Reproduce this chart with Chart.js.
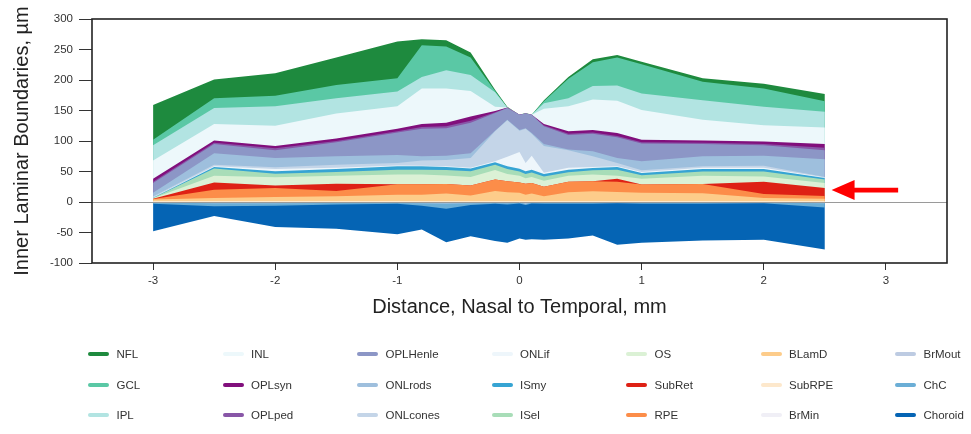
<!DOCTYPE html>
<html>
<head>
<meta charset="utf-8">
<script src="https://cdn.jsdelivr.net/npm/chart.js@4"></script>
<style>
  html, body { margin: 0; padding: 0; background: #fff; }
  #wrap { position: relative; width: 971px; height: 434px; overflow: hidden;
          font-family: "Liberation Sans", Arial, sans-serif; }
  #chart { position: absolute; left: 0; top: 0; }
  .item { position: absolute; height: 14px; width: 130px; }
  .swatch { position: absolute; left: 0; top: 5px; width: 21px; height: 4px; border-radius: 2px; }
  .lbl { position: absolute; left: 28.5px; top: 0; line-height: 14px; font-size: 11.5px; color: #333; white-space: nowrap; }
</style>
</head>
<body>
<div id="wrap">
  <canvas id="chart" width="971" height="434"></canvas>
  <div id="legend"></div>
</div>
<script>
// Sampling positions across the macula (mm, nasal negative)
const distances = [-3, -2.5, -2, -1.5, -1, -0.8, -0.6, -0.4, -0.2, -0.1, 0, 0.05, 0.1, 0.2, 0.4, 0.6, 0.8, 1, 1.5, 2, 2.5];

// Upper boundary of each layer above Bruch's membrane (µm)
const NFL      = [159, 201, 211, 237, 263, 267, 265, 245, 184, 156, 143, 146, 143, 167, 205, 234, 241, 230, 203, 194, 177];
const GCL      = [102, 170, 174, 192, 203, 257, 255, 237, 182, 155, 143, 145, 143, 165, 202, 229, 237, 226, 197, 186, 165];
const IPL      = [93, 154, 157, 170, 181, 205, 216, 208, 180, 155, 143, 145, 143, 162, 170, 190, 191, 178, 167, 156, 148];
const INL      = [68, 128, 125, 145, 157, 186, 186, 182, 156, 155, 143, 145, 143, 153, 157, 168, 166, 151, 135, 126, 122];
const OPLsyn   = [38, 101, 92, 104, 120, 128, 130, 140, 149, 155, 143, 145, 143, 128, 116, 118, 113, 102, 101, 99, 95];
const OPLped   = [33, 97, 88, 100, 116, 123, 124, 133, 147, 154.5, 143, 145, 143, 126, 112, 114, 108, 98, 97, 95, 89];
const OPLHenle = [31, 95, 85, 98, 114, 120, 121, 130, 146, 154, 143, 145, 143, 124, 110, 112, 106, 96, 95, 93, 85];
const ONLrods  = [15, 80, 72, 75, 77, 75, 76, 80, 117, 135, 118, 121, 113, 95, 86, 83, 72, 67, 75, 76, 70];
const ONLcones = [9, 61, 57, 61, 64, 68, 69, 72, 116, 134, 117, 120, 112, 92, 85, 75, 64, 52, 58.5, 59.5, 41];
const ONLif    = [7.5, 58.5, 54, 56, 60, 59.5, 58.5, 56, 67, 74, 82, 64, 76, 48, 56, 57.5, 58.5, 49, 56, 56, 40];
const ISmy     = [7, 57.5, 50.5, 54, 58.5, 58.5, 57.4, 55, 65, 58.5, 54.5, 50.5, 53, 46, 53, 55.7, 57.4, 47.6, 54, 54, 39.3];
const ISel     = [6.5, 55, 46.5, 49, 53, 53, 52.5, 50.5, 61, 54, 50, 46, 48.5, 42, 48.7, 52, 53, 44, 50, 50, 36.7];
const OS       = [6, 43, 40.5, 43, 45, 45, 43.5, 41, 52.5, 46, 43, 39, 41, 35, 43, 45, 43, 38, 43, 42, 31];
const SubRet   = [5.5, 32, 27, 30, 29, 29, 29.5, 27, 37, 34, 32, 30, 31, 25, 33, 34, 38, 28.5, 29.6, 33, 23];
const RPE      = [5, 20, 23, 18, 29, 29, 29.5, 27, 37, 34, 32, 30, 31, 25, 33, 34, 33, 28.5, 29.6, 13, 10];
const BLamD    = [4, 6.5, 8, 9.5, 12, 12, 13.8, 10.6, 18, 16, 15, 12, 14, 9.5, 16, 17.6, 16.5, 15, 14.5, 6.5, 5.5];
const SubRPE   = [1.5, 1.5, 1.5, 1.5, 1.5, 1.5, 1.5, 1.5, 1.5, 1.5, 1.5, 1.5, 1.5, 1.5, 1.5, 1.5, 1.5, 1.5, 1.5, 1.5, 1.5];
// Lower boundary of each layer below Bruch's membrane (µm)
const BrMin    = [-0.5, -0.5, -0.5, -0.5, -0.5, -0.5, -0.5, -0.5, -0.5, -0.5, -0.5, -0.5, -0.5, -0.5, -0.5, -0.5, -0.5, -0.5, -0.5, -0.5, -0.5];
const BrMout   = [-1, -2, -2, -1.5, -1.5, -2, -2.5, -2, -1.5, -2, -1, -3, -1, -1.5, -1.5, -1.5, -1, -1.5, -1.5, -1, -2];
const ChC      = [-3, -7, -6, -4, -3, -6, -11, -5, -3, -4, -2.5, -5, -2.5, -3, -3, -3, -2, -3, -3, -2, -9];
const Choroid  = [-48, -23, -41, -44, -53, -45, -66, -56, -64, -67, -60, -62, -61, -62, -60, -55, -70, -67, -63, -62, -78];

const xTickValues = [-3, -2, -1, 0, 1, 2, 3];
const yTickValues = [-100, -50, 0, 50, 100, 150, 200, 250, 300];

const layerNames = ["NFL", "GCL", "IPL", "INL", "OPLsyn", "OPLped", "OPLHenle", "ONLrods", "ONLcones",
  "ONLif", "ISmy", "ISel", "OS", "SubRet", "RPE", "BLamD", "SubRPE", "BrMin", "BrMout", "ChC", "Choroid"];
const layerValues = [NFL, GCL, IPL, INL, OPLsyn, OPLped, OPLHenle, ONLrods, ONLcones,
  ONLif, ISmy, ISel, OS, SubRet, RPE, BLamD, SubRPE, BrMin, BrMout, ChC, Choroid];
const layerColors = ["#1e8a3e", "#5ac8a5", "#b2e4e2", "#edf8fb", "#810f7c", "#8856a7", "#8c96c6", "#9ebfdd",
  "#c4d5e8", "#eef6fb", "#36a4d3", "#a8ddb8", "#dbf1d5", "#de2115", "#fc8d49", "#fdcc8a", "#fde8cc",
  "#f0eff6", "#bdcbe2", "#6baed6", "#0564b4"];

// Each boundary is filled down to zero; outer boundaries are painted first so inner ones sit on top.
const datasets = layerNames.map((name, i) => {
  const above = layerValues[i][0] >= 0;
  return {
    label: name,
    data: distances.map((d, k) => ({ x: d, y: layerValues[i][k] })),
    fill: 'origin',
    backgroundColor: layerColors[i],
    borderColor: layerColors[i],
    borderWidth: 0,
    pointRadius: 0,
    tension: 0,
    order: above ? 60 - i : 30 + (i - 16)
  };
});

const decorPlugin = {
  id: 'decor',
  afterDatasetsDraw(chart) {
    const { ctx, chartArea: a, scales: { x, y } } = chart;
    ctx.save();
    // baseline at Bruch's membrane
    const y0 = Math.round(y.getPixelForValue(0)) + 0.5;
    ctx.strokeStyle = '#9a9a9a';
    ctx.lineWidth = 1;
    ctx.beginPath(); ctx.moveTo(a.left, y0); ctx.lineTo(a.right, y0); ctx.stroke();
    // plot frame
    ctx.strokeStyle = '#222';
    ctx.lineWidth = 1.6;
    ctx.strokeRect(a.left, a.top, a.right - a.left, a.bottom - a.top);
    // pointer to the subretinal layer at the temporal end
    const tip = x.getPixelForValue(2.555), tail = x.getPixelForValue(3.1), ya = y.getPixelForValue(19.5);
    const headLen = 23, headHalf = 10, shaftHalf = 2.3;
    ctx.fillStyle = '#ff0000';
    ctx.beginPath();
    ctx.moveTo(tip, ya);
    ctx.lineTo(tip + headLen, ya - headHalf);
    ctx.lineTo(tip + headLen, ya - shaftHalf);
    ctx.lineTo(tail, ya - shaftHalf);
    ctx.lineTo(tail, ya + shaftHalf);
    ctx.lineTo(tip + headLen, ya + shaftHalf);
    ctx.lineTo(tip + headLen, ya + headHalf);
    ctx.closePath();
    ctx.fill();
    ctx.restore();
  }
};

Chart.defaults.font.family = '"Liberation Sans", Arial, sans-serif';
Chart.defaults.color = '#333';

new Chart(document.getElementById('chart'), {
  type: 'line',
  data: { datasets },
  options: {
    responsive: false,
    animation: false,
    devicePixelRatio: 1,
    layout: { padding: { left: 0, right: 24, top: 19, bottom: 111 } },
    plugins: { legend: { display: false }, tooltip: { enabled: false } },
    scales: {
      x: {
        type: 'linear', min: -3.5, max: 3.5,
        afterBuildTicks: s => { s.ticks = xTickValues.map(v => ({ value: v })); },
        afterFit: s => { s.height = 60; },
        grid: { display: true, drawOnChartArea: false, drawTicks: true, tickLength: 7, tickColor: '#333', tickWidth: 1 },
        border: { display: false },
        ticks: { font: { size: 11.5 }, color: '#333', padding: 4, maxRotation: 0, callback: v => String(v) },
        title: { display: true, text: 'Distance, Nasal to Temporal, mm', color: '#222',
                 font: { size: 20 }, padding: { top: 4, bottom: 4 } }
      },
      y: {
        type: 'linear', min: -100, max: 300,
        afterBuildTicks: s => { s.ticks = yTickValues.map(v => ({ value: v })); },
        afterFit: s => { s.width = 92; },
        grid: { display: true, drawOnChartArea: false, drawTicks: true, tickLength: 13, tickColor: '#333', tickWidth: 1 },
        border: { display: false },
        ticks: { font: { size: 11.5 }, color: '#333', padding: 6, callback: v => String(v) },
        title: { display: true, text: 'Inner Laminar Boundaries, µm', color: '#222',
                 font: { size: 20 }, padding: { top: 10, bottom: 4 } }
      }
    }
  },
  plugins: [decorPlugin]
});

// Legend laid out column by column, three entries per column
const legendEl = document.getElementById('legend');
layerNames.forEach((name, i) => {
  const col = Math.floor(i / 3), row = i % 3;
  const item = document.createElement('div');
  item.className = 'item';
  item.style.left = (88 + col * 134.5) + 'px';
  item.style.top = (347 + row * 30.5) + 'px';
  const sw = document.createElement('span');
  sw.className = 'swatch';
  sw.style.background = layerColors[i];
  const lbl = document.createElement('span');
  lbl.className = 'lbl';
  lbl.textContent = name;
  item.appendChild(sw);
  item.appendChild(lbl);
  legendEl.appendChild(item);
});
</script>
</body>
</html>
